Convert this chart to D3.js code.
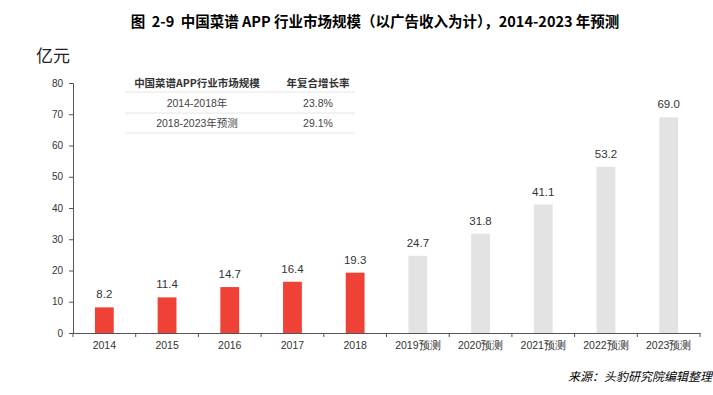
<!DOCTYPE html>
<html>
<head>
<meta charset="utf-8">
<script src="https://cdn.jsdelivr.net/npm/d3@7"></script>
<style>
  body { margin: 0; background: #fff; }
  svg { display: block; font-family: "Liberation Sans", Arial, "Noto Sans CJK SC", sans-serif; }
</style>
</head>
<body>
<div id="chart"></div>
<script>
// chart data
var categories = ['2014', '2015', '2016', '2017', '2018',
    '2019预测', '2020预测', '2021预测', '2022预测', '2023预测'];
var values = [8.2, 11.4, 14.7, 16.4, 19.3, 24.7, 31.8, 41.1, 53.2, 69.0];
var forecast = [false, false, false, false, false, true, true, true, true, true];
var yTicks = [0, 10, 20, 30, 40, 50, 60, 70, 80];
var tableHeader = ['中国菜谱APP行业市场规模', '年复合增长率'];
var tableRows = [['2014-2018年', '23.8%'], ['2018-2023年预测', '29.1%']];

var width = 713, height = 395;
var margin = {top: 83, right: 13, bottom: 62, left: 73};

var svg = d3.select('#chart').append('svg')
    .attr('width', width)
    .attr('height', height);

svg.append('text')
    .attr('x', 375)
    .attr('y', 27)
    .attr('text-anchor', 'middle')
    .attr('font-size', 14.5)
    .attr('font-weight', 'bold')
    .attr('fill', '#000')
    .style('white-space', 'pre')
    .style('font-family', '"Noto Sans CJK SC", sans-serif')
    .text('图  2-9  中国菜谱 APP 行业市场规模（以广告收入为计），2014-2023 年预测');

svg.append('text')
    .attr('x', 36)
    .attr('y', 62)
    .attr('font-size', 17)
    .attr('fill', '#222')
    .style('font-family', '"Noto Sans CJK SC", sans-serif')
    .text('亿元');

var x = d3.scaleBand()
    .domain(categories)
    .range([margin.left, width - margin.right]);

var y = d3.scaleLinear()
    .domain([0, 80])
    .range([height - margin.bottom, margin.top]);

var barW = x.bandwidth() * 0.3;

// bars
svg.append('g').selectAll('rect')
    .data(values)
    .enter().append('rect')
    .attr('x', function(d, i) { return x(categories[i]) + (x.bandwidth() - barW) / 2; })
    .attr('y', function(d) { return y(d); })
    .attr('width', barW)
    .attr('height', function(d) { return y(0) - y(d); })
    .attr('fill', function(d, i) { return forecast[i] ? '#e3e3e3' : '#ef4136'; });

// value labels
svg.append('g').selectAll('text')
    .data(values)
    .enter().append('text')
    .attr('x', function(d, i) { return x(categories[i]) + x.bandwidth() / 2; })
    .attr('y', function(d) { return y(d) - 9; })
    .attr('text-anchor', 'middle')
    .attr('font-size', 11.5)
    .attr('fill', '#333')
    .text(function(d) { return d.toFixed(1); });

// y axis
var yAxis = svg.append('g')
    .attr('transform', 'translate(' + margin.left + ',0)')
    .call(d3.axisLeft(y).tickValues(yTicks).tickSize(4).tickPadding(6));
yAxis.select('.domain').attr('stroke', '#555');
yAxis.selectAll('.tick line').attr('stroke', '#555');
yAxis.selectAll('.tick text').attr('font-size', 10).attr('fill', '#333');

// x axis
var xAxis = svg.append('g')
    .attr('transform', 'translate(0,' + y(0) + ')')
    .call(d3.axisBottom(x).tickSize(0).tickPadding(9));
xAxis.select('.domain').attr('stroke', '#555');
xAxis.selectAll('.tick text')
    .attr('font-size', 10.5)
    .attr('fill', '#333');

// x tick marks between categories
var bounds = categories.map(function(c) { return x(c); }).concat([x.range()[1]]);
xAxis.selectAll('.sep')
    .data(bounds)
    .enter().append('line')
    .attr('class', 'sep')
    .attr('x1', function(d) { return d; })
    .attr('x2', function(d) { return d; })
    .attr('y1', 0)
    .attr('y2', 4)
    .attr('stroke', '#555');

// inset table
var col = [197, 318];
var rowY = [83, 103, 123];
var lines = [92, 113, 133];
var tbl = svg.append('g');

tbl.selectAll('.hd')
    .data(tableHeader)
    .enter().append('text')
    .attr('x', function(d, i) { return col[i]; })
    .attr('y', rowY[0] + 4)
    .attr('text-anchor', 'middle')
    .attr('font-size', 10.5)
    .attr('font-weight', 'bold')
    .attr('fill', '#333')
    .style('font-family', '"Noto Sans CJK SC", sans-serif')
    .text(function(d) { return d; });

tableRows.forEach(function(r, k) {
    tbl.selectAll('.r' + k)
        .data(r)
        .enter().append('text')
        .attr('x', function(d, i) { return col[i]; })
        .attr('y', rowY[k + 1] + 4)
        .attr('text-anchor', 'middle')
        .attr('font-size', 10.5)
        .attr('fill', '#444')
        .text(function(d) { return d; });
});

tbl.selectAll('line')
    .data(lines)
    .enter().append('line')
    .attr('x1', 125)
    .attr('x2', 355)
    .attr('y1', function(d) { return d; })
    .attr('y2', function(d) { return d; })
    .attr('stroke', '#e6e6e6')
    .attr('stroke-width', 1);

// source
svg.append('text')
    .attr('x', 712)
    .attr('y', 381)
    .attr('text-anchor', 'end')
    .attr('font-size', 12)
    .attr('font-style', 'italic')
    .attr('fill', '#000')
    .style('font-family', '"Noto Sans CJK SC", sans-serif')
    .text('来源：头豹研究院编辑整理');
</script>
</body>
</html>
